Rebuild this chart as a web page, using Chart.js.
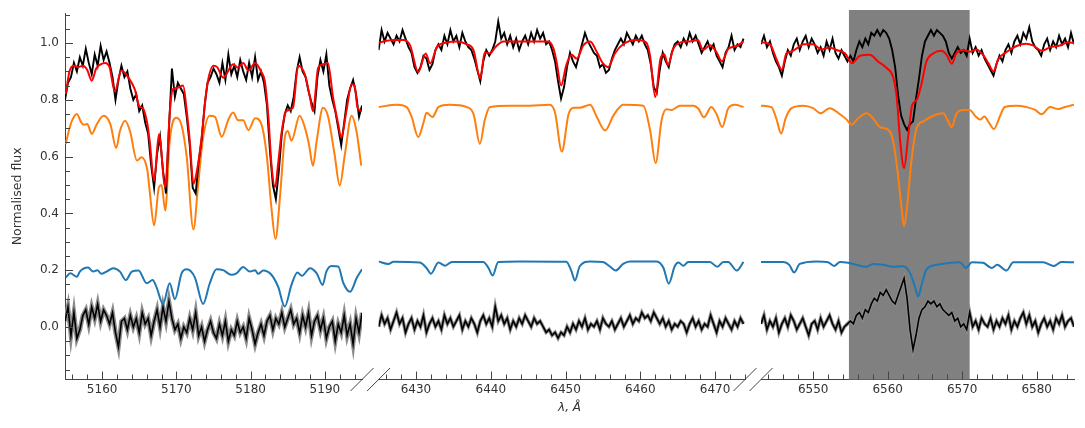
<!DOCTYPE html>
<html lang="en">
<head>
<meta charset="UTF-8">
<title>Normalised flux</title>
<script src="https://cdn.jsdelivr.net/npm/chart.js@4"></script>
<style>
  body { margin: 0; background: #fff; }
  #wrap { position: relative; width: 1085px; height: 428px; }
  #wrap canvas { position: absolute; left: 0; top: 0; }
</style>
</head>
<body>
<div id="wrap">
  <canvas id="p1" width="1085" height="428"></canvas>
  <canvas id="p2" width="1085" height="428"></canvas>
  <canvas id="p3" width="1085" height="428"></canvas>
</div>
<script>
// wavelength ranges (Angstrom) of the three broken-axis windows
const p1Range = [5155, 5195];
const p2Range = [6425, 6474];
const p3Range = [6543, 6585];
const p1Ticks = [5160, 5170, 5180, 5190];
const p2Ticks = [6430, 6440, 6450, 6460, 6470];
const p3Ticks = [6550, 6560, 6570, 6580];
const yTicks = [0.0, 0.2, 0.4, 0.6, 0.8, 1.0];
const hAlphaBand = [6554.8, 6571.0];

// observed spectrum and residuals are sampled on a regular grid from the window start
const gridStep = 0.4;

const p1Obs = [
  0.80, 0.86, 0.88, 0.93, 0.90, 0.95, 0.92, 0.98, 0.93, 0.89,
  0.96, 0.92, 0.99, 0.94, 0.97, 0.93, 0.88, 0.80, 0.87, 0.92,
  0.88, 0.90, 0.84, 0.80, 0.82, 0.76, 0.78, 0.72, 0.68, 0.57,
  0.49, 0.61, 0.67, 0.55, 0.47, 0.70, 0.91, 0.81, 0.86, 0.84,
  0.82, 0.74, 0.64, 0.49, 0.47, 0.58, 0.66, 0.78, 0.86, 0.88,
  0.91, 0.89, 0.86, 0.93, 0.87, 0.96, 0.89, 0.92, 0.88, 0.94,
  0.90, 0.87, 0.93, 0.88, 0.95, 0.87, 0.90, 0.86, 0.78, 0.62,
  0.50, 0.45, 0.55, 0.68, 0.75, 0.78, 0.76, 0.81, 0.90, 0.95,
  0.90, 0.88, 0.83, 0.79, 0.76, 0.88, 0.94, 0.90, 0.96, 0.85,
  0.80, 0.76, 0.70, 0.64, 0.72, 0.80, 0.84, 0.87, 0.82, 0.74,
  0.78
];
const p1Resid = [
  0.02, 0.07, -0.03, 0.05, -0.04, -0.01, 0.04, 0.06, 0.01, 0.07,
  0.03, 0.08, 0.02, 0.06, 0.04, 0.01, 0.05, -0.02, -0.07, 0.02,
  0.03, -0.01, 0.04, 0.00, 0.03, -0.02, 0.05, 0.01, 0.03, -0.03,
  0.02, 0.06, 0.00, 0.07, 0.02, 0.09, 0.03, -0.01, 0.01, -0.04,
  0.00, -0.02, 0.03, -0.01, 0.05, -0.03, 0.00, -0.05, -0.01, 0.02,
  -0.02, -0.04, 0.01, -0.03, 0.02, -0.05, -0.01, -0.03, 0.02, -0.02,
  0.00, -0.04, 0.03, -0.01, -0.06, -0.02, 0.01, -0.03, 0.02, 0.04,
  -0.01, 0.03, 0.01, 0.05, 0.00, 0.03, 0.06, 0.01, 0.03, -0.02,
  0.04, 0.00, 0.05, -0.03, 0.02, 0.04, -0.01, 0.03, -0.04, 0.00,
  0.02, -0.05, 0.01, -0.02, 0.04, -0.03, 0.01, -0.06, 0.03, -0.02,
  0.05
];
const p1Model = [
  [5155.1, 0.82], [5155.6, 0.90], [5156.2, 0.92], [5156.8, 0.915], [5157.4, 0.92],
  [5158.0, 0.905], [5158.6, 0.867], [5159.2, 0.91], [5159.8, 0.925], [5160.4, 0.93],
  [5161.0, 0.915], [5161.7, 0.83], [5162.6, 0.903], [5163.7, 0.872], [5164.4, 0.837],
  [5165.0, 0.778], [5165.5, 0.77], [5166.1, 0.714], [5166.4, 0.656], [5167.0, 0.515],
  [5167.65, 0.679], [5168.5, 0.492], [5169.1, 0.75], [5169.5, 0.837], [5170.25, 0.843],
  [5170.9, 0.85], [5171.4, 0.76], [5171.8, 0.656], [5172.3, 0.504], [5172.7, 0.54],
  [5173.4, 0.667], [5174.1, 0.843], [5175.0, 0.92], [5175.5, 0.915], [5176.3, 0.878],
  [5177.65, 0.925], [5178.3, 0.913], [5179.0, 0.93], [5179.7, 0.903], [5180.6, 0.93],
  [5181.5, 0.895], [5181.9, 0.867], [5182.4, 0.737], [5182.8, 0.574], [5183.3, 0.492],
  [5183.7, 0.574], [5184.2, 0.69], [5184.8, 0.76], [5185.7, 0.772], [5186.4, 0.92],
  [5187.3, 0.89], [5188.0, 0.808], [5188.4, 0.76], [5189.1, 0.913], [5189.75, 0.925],
  [5190.4, 0.93], [5191.1, 0.808], [5191.8, 0.714], [5192.2, 0.667], [5192.9, 0.76],
  [5193.6, 0.855], [5194.0, 0.85], [5194.4, 0.772], [5195.0, 0.76]
];
const p1Primary = [
  [5155.1, 0.644], [5155.6, 0.70], [5156.0, 0.73], [5156.6, 0.75], [5157.1, 0.725],
  [5157.5, 0.712], [5158.0, 0.715], [5158.6, 0.68], [5159.3, 0.715], [5160.2, 0.744],
  [5161.1, 0.715], [5161.9, 0.63], [5162.4, 0.69], [5163.1, 0.726], [5163.75, 0.69],
  [5164.7, 0.586], [5165.3, 0.598], [5166.1, 0.551], [5166.4, 0.48], [5167.0, 0.358],
  [5167.65, 0.492], [5168.0, 0.50], [5168.5, 0.41], [5169.1, 0.656], [5170.0, 0.737],
  [5170.7, 0.71], [5171.4, 0.597], [5172.3, 0.343], [5172.9, 0.492], [5173.6, 0.667],
  [5174.5, 0.744], [5175.2, 0.74], [5176.1, 0.67], [5177.0, 0.73], [5177.65, 0.755],
  [5178.3, 0.728], [5179.0, 0.728], [5179.7, 0.693], [5180.6, 0.735], [5181.5, 0.71],
  [5182.2, 0.597], [5182.8, 0.42], [5183.35, 0.31], [5183.95, 0.457], [5184.6, 0.667],
  [5185.0, 0.69], [5185.5, 0.656], [5186.6, 0.744], [5187.3, 0.703], [5187.85, 0.644],
  [5188.4, 0.568], [5188.9, 0.656], [5189.75, 0.772], [5190.4, 0.744], [5191.3, 0.609],
  [5192.0, 0.498], [5192.7, 0.609], [5193.6, 0.744], [5194.25, 0.69], [5194.9, 0.568]
];
const p1Secondary = [
  [5155.1, 0.174], [5155.7, 0.189], [5156.6, 0.177], [5157.0, 0.195], [5158.1, 0.209],
  [5158.8, 0.195], [5159.35, 0.20], [5159.9, 0.187], [5160.6, 0.195], [5161.5, 0.207],
  [5162.4, 0.195], [5163.2, 0.165], [5164.0, 0.195], [5164.9, 0.199], [5166.0, 0.154],
  [5166.8, 0.165], [5167.3, 0.142], [5168.2, 0.081], [5169.1, 0.154], [5169.8, 0.098],
  [5170.7, 0.189], [5171.4, 0.203], [5172.5, 0.174], [5173.6, 0.081], [5174.5, 0.154],
  [5175.4, 0.203], [5176.3, 0.20], [5177.4, 0.184], [5178.1, 0.189], [5179.0, 0.211],
  [5179.9, 0.195], [5180.6, 0.20], [5181.0, 0.187], [5181.7, 0.199], [5182.8, 0.184],
  [5183.7, 0.142], [5184.6, 0.072], [5185.5, 0.148], [5186.3, 0.192], [5186.9, 0.18],
  [5188.0, 0.207], [5188.9, 0.189], [5189.7, 0.148], [5190.2, 0.195], [5190.9, 0.215],
  [5191.8, 0.213], [5192.5, 0.154], [5193.4, 0.124], [5194.3, 0.173], [5195.0, 0.203]
];

const p2Obs = [
  0.97, 1.04, 1.00, 1.03, 1.01, 0.99, 1.02, 1.00, 1.04, 1.01,
  0.98, 0.96, 0.91, 0.89, 0.91, 0.95, 0.94, 0.90, 0.92, 0.97,
  0.99, 0.97, 1.02, 0.99, 1.04, 1.00, 1.02, 0.98, 1.03, 1.00,
  0.98, 0.97, 0.94, 0.90, 0.86, 0.93, 0.97, 0.95, 0.97, 1.00,
  1.07, 1.01, 1.03, 0.99, 1.02, 0.98, 1.01, 0.97, 1.00, 1.02,
  0.99, 1.03, 1.00, 1.04, 1.01, 1.03, 0.99, 1.00, 0.97, 0.93,
  0.86, 0.80, 0.84, 0.91, 0.96, 0.93, 0.91, 0.95, 0.99, 1.03,
  1.00, 0.98, 0.96, 0.95, 0.91, 0.92, 0.89, 0.90, 0.94, 0.97,
  0.99, 1.01, 0.99, 1.03, 1.01, 0.99, 1.02, 1.00, 1.02, 0.99,
  0.97, 0.92, 0.84, 0.82, 0.90, 0.96, 0.93, 0.91, 0.96, 0.99,
  1.00, 0.98, 1.01, 0.99, 1.03, 1.00, 1.02, 0.99, 0.96, 0.98,
  1.00, 0.97, 0.99, 0.95, 0.93, 0.91, 0.96, 0.98, 1.02, 0.97,
  0.99, 0.98, 1.01
];
const p2Resid = [
  0.00, 0.04, 0.01, 0.03, -0.01, 0.02, 0.05, 0.01, 0.03, -0.02,
  0.01, 0.03, -0.01, 0.02, 0.00, 0.04, -0.02, 0.01, 0.03, 0.00,
  0.02, -0.01, 0.04, 0.01, 0.03, 0.00, 0.02, 0.04, -0.01, 0.02,
  0.00, 0.03, 0.01, -0.02, 0.02, 0.04, 0.01, 0.03, 0.00, 0.07,
  0.02, 0.04, 0.01, 0.03, -0.01, 0.02, 0.00, 0.03, 0.01, 0.04,
  0.02, 0.00, 0.03, 0.01, 0.02, 0.00, -0.02, -0.01, -0.03, -0.02,
  -0.04, -0.02, -0.03, 0.00, -0.02, 0.01, -0.01, 0.02, 0.00, 0.03,
  -0.01, 0.01, 0.00, 0.02, -0.01, 0.03, 0.01, 0.00, 0.02, -0.01,
  0.01, 0.03, 0.00, 0.02, 0.04, 0.01, 0.03, 0.02, 0.05, 0.03,
  0.04, 0.02, 0.05, 0.03, 0.01, 0.03, 0.00, 0.02, -0.01, 0.01,
  0.00, 0.02, 0.01, -0.02, 0.01, 0.03, 0.00, 0.02, -0.01, 0.01,
  0.00, 0.04, 0.01, -0.02, 0.02, 0.00, 0.03, 0.01, -0.01, 0.02,
  0.00, 0.03, 0.01
];
const p2Model = [
  [6425.0, 0.996], [6427.0, 1.005], [6428.3, 1.005], [6429.2, 0.987], [6430.3, 0.893],
  [6431.3, 0.958], [6431.9, 0.923], [6432.8, 0.98], [6434.1, 0.996], [6435.4, 1.0],
  [6436.8, 0.99], [6437.7, 0.969], [6438.6, 0.87], [6439.2, 0.962], [6439.9, 0.958],
  [6440.6, 0.98], [6441.7, 1.0], [6443.9, 1.0], [6446.1, 1.0], [6447.7, 1.0],
  [6448.4, 0.974], [6448.8, 0.929], [6449.4, 0.846], [6450.1, 0.917], [6450.8, 0.953],
  [6451.5, 0.94], [6452.4, 0.987], [6453.3, 1.0], [6454.2, 0.962], [6455.0, 0.923],
  [6455.7, 0.91], [6456.6, 0.958], [6457.7, 0.99], [6459.5, 1.005], [6460.8, 0.996],
  [6461.3, 0.95], [6462.0, 0.805], [6462.7, 0.94], [6463.2, 0.955], [6463.7, 0.917],
  [6464.4, 0.974], [6465.3, 0.996], [6466.6, 1.0], [6467.7, 1.005], [6468.4, 0.97],
  [6469.3, 0.987], [6470.2, 0.962], [6470.9, 0.93], [6471.8, 0.975], [6472.9, 0.984],
  [6473.8, 1.0]
];
const p2Primary = [
  [6425.0, 0.77], [6427.4, 0.778], [6428.75, 0.77], [6429.4, 0.737], [6430.3, 0.665],
  [6431.0, 0.715], [6431.4, 0.75], [6432.2, 0.735], [6433.0, 0.77], [6434.5, 0.778],
  [6436.8, 0.77], [6437.7, 0.745], [6438.55, 0.641], [6439.2, 0.725], [6439.9, 0.77],
  [6442.6, 0.775], [6445.2, 0.775], [6447.9, 0.778], [6448.6, 0.75], [6449.5, 0.614],
  [6450.4, 0.745], [6451.1, 0.768], [6451.9, 0.768], [6453.3, 0.778], [6454.2, 0.734],
  [6455.3, 0.688], [6456.4, 0.74], [6457.7, 0.778], [6460.4, 0.775], [6461.3, 0.69],
  [6462.05, 0.574], [6462.85, 0.725], [6463.5, 0.762], [6464.2, 0.76], [6465.3, 0.775],
  [6467.1, 0.775], [6467.75, 0.765], [6468.5, 0.734], [6469.5, 0.77], [6470.2, 0.745],
  [6470.95, 0.70], [6471.75, 0.765], [6472.65, 0.778], [6473.8, 0.77]
];
const p2Secondary = [
  [6425.0, 0.229], [6426.3, 0.22], [6427.0, 0.228], [6430.5, 0.225], [6431.4, 0.206],
  [6432.0, 0.186], [6433.0, 0.225], [6433.9, 0.214], [6434.8, 0.227], [6439.0, 0.227],
  [6439.7, 0.206], [6440.25, 0.18], [6441.0, 0.227], [6443.9, 0.229], [6450.1, 0.228],
  [6450.8, 0.194], [6451.25, 0.162], [6451.9, 0.212], [6453.3, 0.229], [6455.0, 0.227],
  [6455.9, 0.212], [6456.7, 0.197], [6457.7, 0.22], [6458.6, 0.229], [6462.2, 0.229],
  [6463.1, 0.206], [6463.8, 0.151], [6464.6, 0.212], [6465.1, 0.225], [6465.75, 0.214],
  [6466.4, 0.227], [6469.3, 0.227], [6470.3, 0.21], [6471.1, 0.227], [6471.75, 0.227],
  [6472.9, 0.197], [6473.8, 0.227]
];

const p3Obs = [
  0.99, 1.02, 0.98, 1.00, 0.96, 0.93, 0.91, 0.88, 0.93, 0.97,
  0.95, 0.99, 1.01, 0.97, 1.00, 1.02, 0.98, 1.01, 0.99, 0.96,
  0.98, 0.95, 1.00, 0.97, 1.01, 0.96, 0.94, 0.97, 0.95, 0.93,
  0.95, 0.93, 0.97, 1.00, 0.98, 1.01, 0.99, 1.03, 1.02, 1.04,
  1.02, 1.04, 1.03, 1.01, 0.97, 0.91, 0.81, 0.74, 0.71, 0.69,
  0.71, 0.72, 0.80, 0.87, 0.95, 1.00, 1.02, 1.04, 1.02, 1.04,
  1.03, 1.02, 1.00, 0.96, 0.94, 0.96, 0.98, 0.96, 0.97, 0.95,
  1.01, 0.96, 0.98, 0.95, 0.97, 0.94, 0.92, 0.90, 0.88, 0.92,
  0.95, 0.93, 0.97, 0.99, 0.96, 1.00, 1.02, 0.99, 1.03, 1.01,
  1.05, 1.00, 0.98, 0.97, 0.95, 0.99, 1.01, 0.97, 1.00, 0.98,
  1.02, 0.99, 1.01, 0.98, 1.03, 0.99
];
const p3Resid = [
  0.01, 0.04, -0.01, 0.02, 0.00, 0.03, -0.02, 0.01, 0.03, 0.00,
  0.04, 0.02, -0.01, 0.01, 0.03, 0.00, -0.03, 0.01, 0.02, -0.01,
  0.03, 0.00, 0.02, 0.04, 0.01, -0.01, 0.02, -0.02, 0.00, 0.01,
  0.02, 0.01, 0.04, 0.05, 0.03, 0.06, 0.05, 0.08, 0.10, 0.09,
  0.12, 0.11, 0.13, 0.11, 0.09, 0.08, 0.11, 0.14, 0.17, 0.10,
  -0.01, -0.08, -0.03, 0.03, 0.06, 0.07, 0.09, 0.08, 0.09, 0.07,
  0.08, 0.06, 0.05, 0.04, 0.05, 0.02, 0.03, 0.00, 0.01, -0.01,
  0.05, 0.00, 0.02, -0.01, 0.03, 0.01, 0.00, 0.03, -0.01, 0.02,
  0.00, 0.03, 0.01, 0.04, -0.01, 0.02, 0.00, 0.03, 0.05, 0.01,
  0.04, 0.00, 0.02, -0.02, 0.01, 0.03, 0.00, 0.02, -0.01, 0.03,
  0.01, 0.04, 0.00, 0.02, 0.03, 0.00
];
const p3Model = [
  [6543.0, 0.997], [6544.2, 0.99], [6545.1, 0.936], [6545.8, 0.90], [6546.4, 0.958],
  [6547.1, 0.965], [6547.8, 0.976], [6548.7, 0.99], [6550.0, 0.99], [6551.1, 0.972],
  [6552.2, 0.979], [6553.1, 0.97], [6554.3, 0.958], [6555.2, 0.924], [6556.3, 0.95],
  [6557.6, 0.953], [6558.7, 0.93], [6559.9, 0.906], [6560.7, 0.877], [6561.2, 0.807],
  [6561.7, 0.644], [6562.2, 0.556], [6562.75, 0.667], [6563.3, 0.778], [6563.9, 0.795],
  [6564.55, 0.853], [6565.2, 0.93], [6566.1, 0.958], [6567.2, 0.967], [6567.9, 0.953],
  [6568.6, 0.922], [6569.2, 0.958], [6570.1, 0.97], [6571.0, 0.964], [6571.9, 0.972],
  [6572.8, 0.953], [6573.5, 0.924], [6574.2, 0.895], [6574.8, 0.936], [6576.0, 0.964],
  [6577.3, 0.984], [6578.6, 0.992], [6579.5, 0.986], [6580.7, 0.967], [6581.8, 0.98],
  [6583.1, 0.986], [6584.2, 0.997], [6585.0, 0.995]
];
const p3Primary = [
  [6543.0, 0.775], [6544.4, 0.77], [6545.1, 0.726], [6545.7, 0.677], [6546.3, 0.73],
  [6547.1, 0.766], [6548.7, 0.775], [6550.0, 0.766], [6551.0, 0.748], [6552.2, 0.766],
  [6553.6, 0.745], [6554.5, 0.726], [6555.15, 0.708], [6556.0, 0.73], [6557.2, 0.748],
  [6558.05, 0.73], [6558.95, 0.70], [6560.1, 0.69], [6560.7, 0.655], [6561.3, 0.55],
  [6561.85, 0.42], [6562.2, 0.352], [6562.6, 0.42], [6563.2, 0.585], [6563.9, 0.698],
  [6564.8, 0.72], [6565.9, 0.737], [6567.45, 0.748], [6568.0, 0.726], [6568.6, 0.70],
  [6569.2, 0.745], [6570.1, 0.76], [6571.0, 0.76], [6571.8, 0.737], [6572.4, 0.726],
  [6572.95, 0.737], [6573.6, 0.715], [6574.25, 0.693], [6575.05, 0.737], [6575.7, 0.77],
  [6577.3, 0.775], [6578.6, 0.77], [6579.8, 0.76], [6580.65, 0.745], [6581.8, 0.77],
  [6582.9, 0.763], [6583.8, 0.77], [6585.0, 0.778]
];
const p3Secondary = [
  [6543.0, 0.227], [6546.0, 0.227], [6546.8, 0.217], [6547.45, 0.19], [6548.2, 0.22],
  [6550.45, 0.229], [6552.0, 0.226], [6552.8, 0.213], [6553.6, 0.227], [6554.7, 0.224],
  [6555.8, 0.217], [6557.1, 0.21], [6558.05, 0.22], [6559.4, 0.217], [6560.7, 0.21],
  [6562.1, 0.212], [6563.0, 0.188], [6563.65, 0.141], [6564.1, 0.106], [6564.55, 0.147],
  [6565.2, 0.20], [6566.55, 0.217], [6568.35, 0.224], [6569.7, 0.226], [6570.5, 0.206],
  [6571.3, 0.226], [6572.8, 0.224], [6573.95, 0.206], [6574.7, 0.217], [6575.95, 0.197],
  [6576.85, 0.226], [6580.85, 0.226], [6582.3, 0.213], [6583.3, 0.227], [6585.0, 0.226]
];

const axisColor = '#444';
const textColor = '#333';
const fontFamily = 'DejaVu Sans';

function onGrid(start, values) {
  return values.map((v, i) => ({ x: start + i * gridStep, y: v }));
}
function pairs(list) {
  return list.map(([x, y]) => ({ x, y }));
}
function line(data, color, width, smooth) {
  return {
    data, borderColor: color, borderWidth: width, pointRadius: 0, fill: false,
    tension: 0, cubicInterpolationMode: smooth ? 'monotone' : 'default'
  };
}

// inward ticks, broken-axis slashes, shaded window, shared x label
const decor = {
  id: 'decor',
  beforeDatasetsDraw(chart, args, opts) {
    if (!opts.band) return;
    const { ctx, chartArea: a, scales: { x } } = chart;
    const x0 = x.getPixelForValue(opts.band[0]);
    const x1 = x.getPixelForValue(opts.band[1]);
    ctx.save();
    ctx.fillStyle = '#808080';
    ctx.fillRect(x0, a.top - 1.5, x1 - x0, a.bottom - a.top + 1.5);
    ctx.restore();
  },
  afterDraw(chart, args, opts) {
    const { ctx, chartArea: a, scales: { x, y } } = chart;
    ctx.save();
    ctx.strokeStyle = axisColor;
    ctx.lineWidth = 1;
    ctx.beginPath();
    for (let v = Math.ceil(x.min / 2) * 2; v <= x.max; v += 2) {
      const len = opts.xTicks.includes(v) ? 8 : 5;
      const px = Math.round(x.getPixelForValue(v)) + 0.5;
      ctx.moveTo(px, a.bottom);
      ctx.lineTo(px, a.bottom - len);
    }
    if (opts.yAxis) {
      for (let i = -3; i <= 22; i++) {
        const len = i % 4 === 0 ? 8 : 5;
        const py = Math.round(y.getPixelForValue(i * 0.05)) + 0.5;
        ctx.moveTo(a.left, py);
        ctx.lineTo(a.left + len, py);
      }
    }
    (opts.breaks || []).forEach(side => {
      const cx = side === 'left' ? a.left : a.right;
      ctx.moveTo(cx - 11.5, a.bottom + 11.5);
      ctx.lineTo(cx + 11.5, a.bottom - 11.5);
    });
    ctx.stroke();
    if (opts.xLabel) {
      ctx.fillStyle = textColor;
      ctx.font = 'italic 12px "' + fontFamily + '"';
      ctx.textAlign = 'center';
      ctx.textBaseline = 'middle';
      ctx.fillText(opts.xLabel, 569.5, 408);
    }
    ctx.restore();
  }
};

function panel(id, range, ticks, series, opt) {
  const tickFont = { family: fontFamily, size: 12 };
  return new Chart(document.getElementById(id), {
    type: 'line',
    data: {
      datasets: [
        line(pairs(series.model), '#ff0000', 2, true),
        line(onGrid(range[0], series.obs), '#000000', 1.9, false),
        line(pairs(series.primary), '#ff7f0e', 2, true),
        line(pairs(series.secondary), '#1f77b4', 2, true),
        line(onGrid(range[0], series.resid), '#000000', 1.6, false),
        line(onGrid(range[0], series.resid), '#8c8c8c', opt.errWidth, false)
      ]
    },
    options: {
      responsive: false,
      animation: false,
      events: [],
      layout: { padding: opt.padding },
      plugins: {
        legend: { display: false },
        tooltip: { enabled: false },
        decor: { xTicks: ticks, yAxis: opt.yAxis, breaks: opt.breaks, band: opt.band, xLabel: opt.xLabel }
      },
      scales: {
        x: {
          type: 'linear', min: range[0], max: range[1],
          afterBuildTicks: s => { s.ticks = ticks.map(v => ({ value: v })); },
          afterFit: s => { s.height = 48.5; },
          grid: { display: false, drawTicks: false },
          border: { display: true, color: axisColor, width: 1 },
          ticks: { color: textColor, font: tickFont, padding: 3, maxRotation: 0, autoSkip: false, callback: v => String(v) }
        },
        y: {
          type: 'linear', min: -0.185, max: 1.105, display: opt.yAxis,
          afterBuildTicks: s => { s.ticks = yTicks.map(v => ({ value: v })); },
          afterFit: s => { s.width = opt.yAxis ? 65 : 0; },
          grid: { display: false, drawTicks: false },
          border: { display: true, color: axisColor, width: 1 },
          ticks: { color: textColor, font: tickFont, padding: 6, callback: v => v.toFixed(1) },
          title: {
            display: true, text: 'Normalised flux', color: textColor,
            font: { family: fontFamily, size: 12.5 }, padding: { top: 10, bottom: 0 }
          }
        }
      }
    },
    plugins: [decor]
  });
}

panel('p1', p1Range, p1Ticks,
  { model: p1Model, obs: p1Obs, primary: p1Primary, secondary: p1Secondary, resid: p1Resid },
  { padding: { left: 0, right: 1085 - 362, top: 11.5, bottom: 0 }, yAxis: true, breaks: ['right'], errWidth: 4.5 });
panel('p2', p2Range, p2Ticks,
  { model: p2Model, obs: p2Obs, primary: p2Primary, secondary: p2Secondary, resid: p2Resid },
  { padding: { left: 378.6, right: 1085 - 745, top: 11.5, bottom: 0 }, yAxis: false, breaks: ['left', 'right'], errWidth: 3.5, xLabel: 'λ, Å' });
panel('p3', p3Range, p3Ticks,
  { model: p3Model, obs: p3Obs, primary: p3Primary, secondary: p3Secondary, resid: p3Resid },
  { padding: { left: 761, right: 1085 - 1074, top: 11.5, bottom: 0 }, yAxis: false, breaks: ['left'], errWidth: 3.5, band: hAlphaBand });
</script>
</body>
</html>
